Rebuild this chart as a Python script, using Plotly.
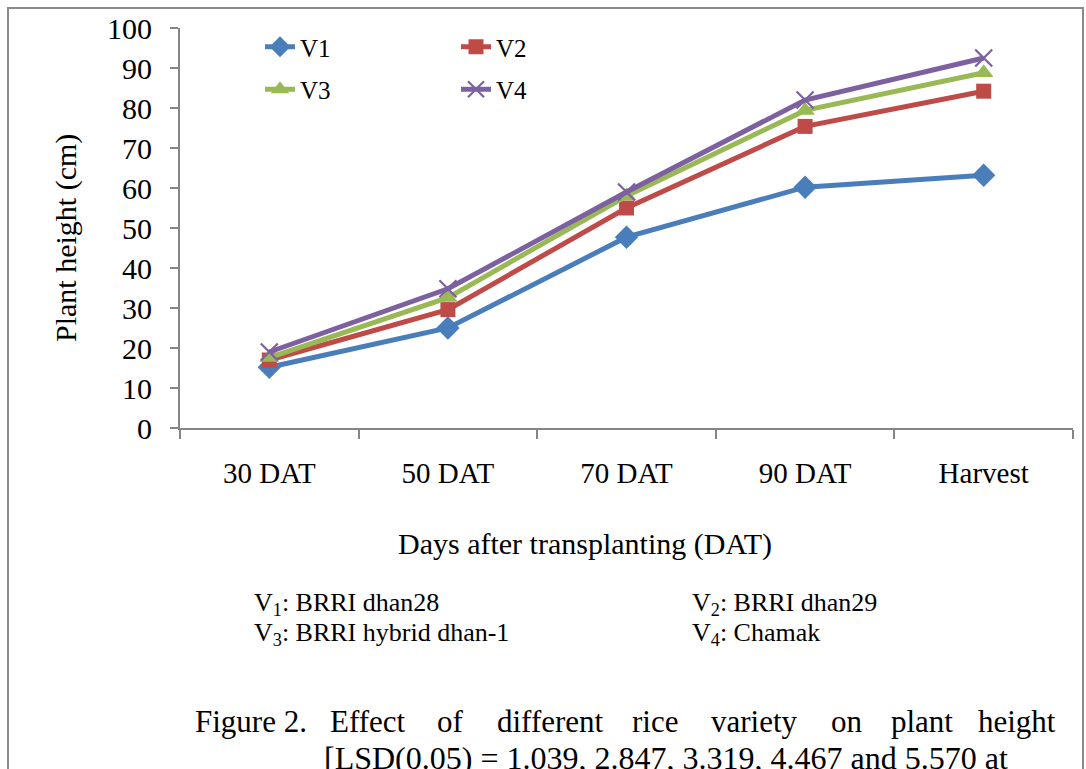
import plotly.graph_objects as go

categories = ["30 DAT", "50 DAT", "70 DAT", "90 DAT", "Harvest"]
v1 = [15.2, 25.0, 47.7, 60.2, 63.2]
v2 = [17.0, 29.6, 55.0, 75.4, 84.2]
v3 = [17.6, 32.6, 58.0, 79.4, 88.8]
v4 = [19.0, 34.8, 59.0, 82.0, 92.5]
series_names = ["V1", "V2", "V3", "V4"]
y_ticks = list(range(0, 101, 10))

W, H = 1086, 769
L, R, T, B = 180, 13, 28, 341
PW, PH = W - L - R, H - T - B


def px(x):
    return (x - L) / PW


def py(y):
    return (H - B - y) / PH


FONT = "Liberation Serif, Times New Roman, serif"
colors = ["#4A7EBB", "#BE4B48", "#98B954", "#7D60A0"]
symbols = ["diamond", "square", "triangle-up", "x-thin"]
sizes = [18, 15, 17, 17]
legends = ["legend", "legend2", "legend", "legend2"]

fig = go.Figure()
for i, (name, vals) in enumerate(zip(series_names, [v1, v2, v3, v4])):
    marker = dict(symbol=symbols[i], size=sizes[i], color=colors[i])
    if symbols[i] == "x-thin":
        marker["line"] = dict(color=colors[i], width=2.2)
    fig.add_trace(go.Scatter(
        x=categories, y=vals, name=name, mode="lines+markers",
        line=dict(color=colors[i], width=5),
        marker=marker, legend=legends[i], legendgroup=name,
    ))

axis_col = "#868686"
fig.update_layout(
    width=W, height=H,
    margin=dict(l=L, r=R, t=T, b=B, autoexpand=False),
    paper_bgcolor="white", plot_bgcolor="white",
    font=dict(family=FONT, color="black"),
    xaxis=dict(
        type="category", range=[-0.5, len(categories) - 0.5],
        showline=True, linecolor=axis_col, linewidth=2,
        ticks="outside", ticklen=9, tickcolor=axis_col, tickwidth=2,
        tickson="boundaries", showgrid=False, zeroline=False,
        tickfont=dict(size=29, family=FONT, color="black"),
        ticklabelstandoff=18,
    ),
    yaxis=dict(
        range=[0, 100], tickvals=y_ticks, showline=True, linecolor=axis_col,
        linewidth=2, ticks="outside", ticklen=8, tickcolor=axis_col,
        tickwidth=2, showgrid=False, zeroline=False,
        tickfont=dict(size=30, family=FONT, color="black"),
        ticklabelstandoff=12,
    ),
    legend=dict(
        x=px(260), y=py(24), xanchor="left", yanchor="top",
        font=dict(size=25, family=FONT), bgcolor="rgba(0,0,0,0)",
        tracegroupgap=7, traceorder="grouped",
    ),
    legend2=dict(
        x=px(456), y=py(24), xanchor="left", yanchor="top",
        font=dict(size=25, family=FONT), bgcolor="rgba(0,0,0,0)",
        tracegroupgap=7, traceorder="grouped",
    ),
    showlegend=True,
)

# outer frame
fig.add_shape(type="rect", xref="paper", yref="paper",
              x0=px(8), x1=px(1083), y0=py(790), y1=py(8),
              line=dict(color="#8a8a8a", width=2), layer="below")

ann = []
# axis titles
ann.append(dict(text="Plant height (cm)", x=px(66), y=py(238), textangle=-90,
                font=dict(size=30)))
ann.append(dict(text="Days after transplanting (DAT)", x=px(585), y=py(544),
                font=dict(size=30)))
# variety key
key = [("V<sub>1</sub>: BRRI dhan28", 252, 604),
       ("V<sub>2</sub>: BRRI dhan29", 690, 604),
       ("V<sub>3</sub>: BRRI hybrid dhan-1", 252, 634),
       ("V<sub>4</sub>: Chamak", 690, 634)]
for t, x, y in key:
    ann.append(dict(text=t, x=px(x), y=py(y), xanchor="left", font=dict(size=26)))
# caption (justified line)
words = [("Figure 2.", 193), ("Effect", 328), ("of", 435), ("different", 495),
         ("rice", 630), ("variety", 709), ("on", 829), ("plant", 889), ("height", 976)]
for w, x in words:
    ann.append(dict(text=w, x=px(x), y=py(721), xanchor="left", font=dict(size=31)))
ann.append(dict(text="[LSD(0.05) = 1.039, 2.847, 3.319, 4.467 and 5.570 at",
                x=px(322), y=py(758), xanchor="left", font=dict(size=32)))

for a in ann:
    a.update(xref="paper", yref="paper", showarrow=False)
    a.setdefault("xanchor", "center")
    a["yanchor"] = "middle"
    a["font"]["family"] = FONT
    a["font"]["color"] = "black"
fig.update_layout(annotations=ann)

fig.write_html("out.html")
